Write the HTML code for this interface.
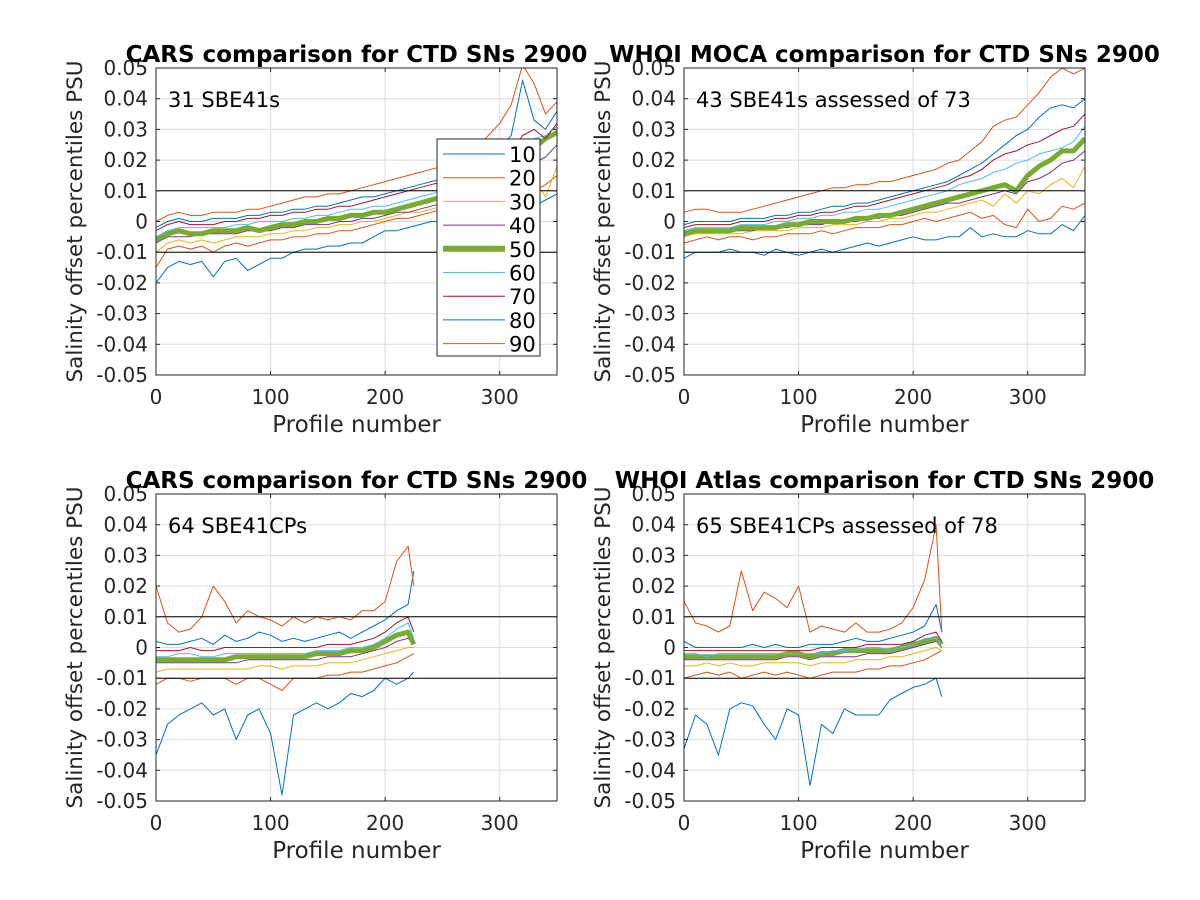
<!DOCTYPE html>
<html><head><meta charset="utf-8"><style>
html,body{margin:0;padding:0;background:#fff;}
svg{display:block;font-family:"DejaVu Sans","Liberation Sans",sans-serif;}
</style></head><body>
<svg id="fig" width="1200" height="900" viewBox="0 0 1200 900" xmlns="http://www.w3.org/2000/svg"></svg>
<script>
// ---- data (salinity offsets in units of 0.001 PSU) ----
const xTop = [0,10,20,30,40,50,60,70,80,90,100,110,120,130,140,150,160,170,180,190,200,210,220,230,240,250,260,270,280,290,300,310,320,330,340,350];
const xBot = [0,10,20,30,40,50,60,70,80,90,100,110,120,130,140,150,160,170,180,190,200,210,220,225];
const pctLabels = ["10","20","30","40","50","60","70","80","90"];
const pctColors = ["#0072BD","#D95319","#EDB120","#7E2F8E","#77AC30","#4DBEEE","#A2142F","#0072BD","#D95319"];
const yTicks = [0.05,0.04,0.03,0.02,0.01,0,-0.01,-0.02,-0.03,-0.04,-0.05];
const yTickLabels = ["0.05","0.04","0.03","0.02","0.01","0","-0.01","-0.02","-0.03","-0.04","-0.05"];
const xTicks = [0,100,200,300];
const refLines = [0.01,-0.01];

const tl10=[-20,-15,-13,-14,-13,-18,-13,-12,-16,-14,-12,-12,-10,-9,-9,-8,-8,-7,-7,-5,-3,-3,-2,-1,0,0,1,2,3,2,4,5,6,5,7,9];
const tl20=[-15,-9,-8,-9,-8,-10,-8,-7,-8,-7,-6,-6,-5,-5,-4,-4,-3,-3,-2,-1,0,1,1,2,3,4,5,5,4,6,6,8,9,10,12,15];
const tl30=[-10,-7,-6,-7,-6,-7,-6,-5,-5,-5,-4,-4,-3,-3,-2,-2,-1,-1,0,0,1,2,3,3,4,5,5,6,8,9,10,12,14,14,8,18];
const tl40=[-7,-5,-5,-5,-4,-4,-4,-4,-3,-3,-3,-2,-2,-1,-1,-1,0,0,1,1,2,3,3,4,5,6,7,8,10,11,12,15,17,19,21,25];
const tl50=[-6,-4,-3,-4,-4,-3,-3,-3,-2,-3,-2,-1,-1,0,0,1,1,2,2,3,3,4,5,6,7,8,9,10,11,13,15,18,21,24,27,29];
const tl60=[-5,-3,-2,-2,-2,-2,-2,-1,-1,0,0,0,1,1,2,2,3,4,4,5,5,6,7,8,9,10,11,13,14,16,18,20,24,27,28,31];
const tl70=[-3,-1,0,-1,-1,-1,0,0,1,1,2,2,3,3,4,4,5,5,6,7,8,9,10,11,12,13,14,16,17,19,21,23,28,30,27,32];
const tl80=[-2,0,1,0,0,1,1,1,2,2,3,3,4,4,5,5,6,7,8,8,9,10,11,12,13,14,15,17,19,21,24,28,46,33,30,36];
const tl90=[0,2,3,2,2,3,3,3,4,4,5,6,7,8,8,9,9,10,11,12,13,14,15,16,17,18,20,22,24,28,32,38,51,45,35,39];

const tr10=[-12,-10,-10,-10,-9,-10,-10,-11,-9,-10,-11,-10,-9,-10,-9,-8,-7,-8,-7,-6,-5,-6,-6,-5,-5,-2,-5,-4,-5,-5,-3,-4,-4,-1,-3,2];
const tr20=[-7,-6,-5,-6,-5,-5,-6,-5,-5,-4,-4,-4,-3,-4,-3,-2,-2,-2,-1,-1,0,1,0,1,2,3,1,2,-1,-2,4,0,1,5,4,6];
const tr30=[-5,-4,-4,-4,-4,-4,-3,-3,-3,-3,-2,-2,-2,-1,-1,-1,0,0,1,1,2,3,3,4,5,6,7,5,9,6,10,9,12,14,11,18];
const tr40=[-4,-3,-3,-3,-3,-3,-3,-2,-2,-2,-1,-1,-1,0,0,0,1,1,2,2,3,4,5,6,6,7,8,9,10,9,13,14,16,19,20,23];
const tr50=[-4,-3,-3,-3,-3,-2,-2,-2,-2,-1,-1,0,0,0,0,1,1,2,2,3,4,5,6,7,8,9,10,11,12,10,15,18,20,23,23,27];
const tr60=[-3,-2,-2,-2,-2,-1,-1,-1,0,0,1,1,2,2,3,3,4,4,5,6,7,8,9,10,12,13,14,16,17,19,20,22,23,24,26,31];
const tr70=[-2,-1,-1,-1,-1,0,0,0,1,1,2,2,3,3,4,5,5,6,7,8,9,10,11,12,14,15,17,20,22,23,25,26,28,30,31,35];
const tr80=[-1,0,0,0,0,1,1,1,2,2,3,3,4,5,5,6,6,7,8,9,10,11,12,13,15,17,19,22,25,28,30,34,37,38,37,40];
const tr90=[3,4,4,3,3,3,4,5,6,7,8,9,10,11,11,12,12,13,13,14,15,16,17,19,20,23,26,31,33,34,38,42,47,50,48,50];

const bl10=[-35,-25,-22,-20,-18,-22,-20,-30,-22,-20,-28,-48,-22,-20,-18,-20,-18,-15,-16,-14,-10,-12,-10,-8];
const bl20=[-12,-10,-10,-11,-10,-10,-10,-12,-10,-10,-12,-14,-10,-10,-10,-9,-9,-8,-8,-7,-6,-5,-3,-2];
const bl30=[-8,-7,-7,-7,-7,-7,-7,-7,-7,-6,-6,-7,-6,-6,-6,-5,-5,-5,-4,-3,-2,-1,0,0];
const bl40=[-5,-5,-5,-5,-5,-5,-5,-5,-4,-4,-4,-4,-4,-4,-4,-3,-3,-3,-2,-1,0,2,3,1];
const bl50=[-4,-4,-4,-4,-4,-4,-4,-3,-3,-3,-3,-3,-3,-3,-2,-2,-2,-1,-1,0,2,4,5,1];
const bl60=[-3,-3,-2,-2,-3,-3,-2,-2,-2,-2,-2,-2,-2,-2,-1,-1,-1,0,0,1,3,6,8,3];
const bl70=[-1,-1,-1,0,-1,-1,0,0,0,0,0,0,0,0,0,1,1,1,2,3,5,8,10,5];
const bl80=[2,1,1,2,3,1,4,2,3,5,4,2,3,2,3,4,5,3,5,7,9,12,14,25];
const bl90=[20,8,5,6,10,20,15,8,12,10,9,7,10,8,10,9,10,9,12,12,15,28,33,20];

const br10=[-33,-22,-25,-35,-20,-18,-19,-25,-30,-20,-22,-45,-25,-28,-20,-22,-22,-22,-17,-15,-13,-12,-10,-16];
const br20=[-10,-9,-8,-9,-8,-10,-9,-8,-9,-8,-9,-10,-9,-8,-8,-8,-7,-7,-6,-6,-5,-4,-2,-1];
const br30=[-6,-6,-5,-6,-5,-6,-6,-5,-5,-5,-5,-6,-5,-5,-5,-4,-4,-4,-3,-3,-2,-1,0,-1];
const br40=[-4,-4,-4,-4,-4,-4,-4,-4,-4,-3,-3,-4,-3,-3,-3,-3,-2,-2,-2,-1,0,1,2,0];
const br50=[-3,-3,-3,-3,-3,-3,-3,-3,-3,-2,-2,-3,-2,-2,-1,-1,-1,-1,-1,0,1,2,3,1];
const br60=[-2,-2,-3,-2,-2,-2,-2,-2,-2,-2,-2,-2,-2,-1,-1,-1,0,0,-1,0,1,3,3,1];
const br70=[-1,-1,-1,-1,-1,-1,-1,-1,-1,-1,-1,-1,0,0,0,0,1,1,1,1,2,4,5,2];
const br80=[2,0,0,0,0,0,1,0,1,0,0,1,1,1,2,3,2,2,3,4,5,7,14,5];
const br90=[15,8,7,5,7,25,12,18,16,13,20,5,7,6,5,8,5,5,6,8,13,22,40,5];

const panels = [
 {name:"cars-sbe41",title:"CARS comparison for CTD SNs 2900",note:"31 SBE41s",x0:156,y0:68,xs:xTop,series:[tl10,tl20,tl30,tl40,tl50,tl60,tl70,tl80,tl90],legend:true},
 {name:"whoi-moca-sbe41",title:"WHOI MOCA comparison for CTD SNs 2900",note:"43 SBE41s assessed of 73",x0:684,y0:68,xs:xTop,series:[tr10,tr20,tr30,tr40,tr50,tr60,tr70,tr80,tr90]},
 {name:"cars-sbe41cp",title:"CARS comparison for CTD SNs 2900",note:"64 SBE41CPs",x0:156,y0:494,xs:xBot,series:[bl10,bl20,bl30,bl40,bl50,bl60,bl70,bl80,bl90]},
 {name:"whoi-atlas-sbe41cp",title:"WHOI Atlas comparison for CTD SNs 2900",note:"65 SBE41CPs assessed of 78",x0:684,y0:494,xs:xBot,series:[br10,br20,br30,br40,br50,br60,br70,br80,br90]}
];
const W=401, H=307, XMAX=350, YMIN=-0.05, YMAX=0.05;
const NS="http://www.w3.org/2000/svg";
const svg=document.getElementById('fig');
function mk(tag,attrs,parent){const e=document.createElementNS(NS,tag);for(const k in attrs)e.setAttribute(k,attrs[k]);(parent||svg).appendChild(e);return e;}

panels.forEach((p,pi)=>{
  const sx=v=>p.x0+v/XMAX*W;
  const sy=v=>p.y0+(YMAX-v)/(YMAX-YMIN)*H;
  const g=mk('g',{});
  
  
  const cp=mk('clipPath',{id:'clip'+pi},g);
  mk('rect',{x:p.x0,y:p.y0,width:W,height:H},cp);
  yTicks.forEach(t=>{const l=mk('line',{x1:p.x0,x2:p.x0+W,y1:sy(t),y2:sy(t),stroke:'#dcdcdc','stroke-width':1},g);
    });
  xTicks.forEach(t=>{const l=mk('line',{x1:sx(t),x2:sx(t),y1:p.y0,y2:p.y0+H,stroke:'#dcdcdc','stroke-width':1},g);
    });
  const lg=mk('g',{'clip-path':'url(#clip'+pi+')'},g);
  p.series.forEach((s,si)=>{
    const d=s.map((v,i)=>(i?'L':'M')+sx(p.xs[i]).toFixed(1)+','+sy(v/1000).toFixed(1)).join('');
    const pa=mk('path',{d:d,fill:'none',stroke:pctColors[si],'stroke-width':si===4?5:1,'stroke-linejoin':'round'},lg);
    
    
  });
  refLines.forEach(r=>{const l=mk('line',{x1:p.x0,x2:p.x0+W,y1:sy(r),y2:sy(r),stroke:'#000','stroke-width':1},g);
    });
  const b=mk('rect',{x:p.x0,y:p.y0,width:W,height:H,fill:'none',stroke:'#262626','stroke-width':1},g);
  
  yTicks.forEach((t,i)=>{
    mk('line',{x1:p.x0,x2:p.x0+4,y1:sy(t),y2:sy(t),stroke:'#262626'},g);
    mk('line',{x1:p.x0+W,x2:p.x0+W-4,y1:sy(t),y2:sy(t),stroke:'#262626'},g);
    const tx=mk('text',{x:p.x0-8,y:sy(t)+7,'text-anchor':'end','font-size':20,fill:'#262626'},g);
    tx.textContent=yTickLabels[i];
    
  });
  xTicks.forEach(t=>{
    mk('line',{x1:sx(t),x2:sx(t),y1:p.y0+H,y2:p.y0+H-4,stroke:'#262626'},g);
    mk('line',{x1:sx(t),x2:sx(t),y1:p.y0,y2:p.y0+4,stroke:'#262626'},g);
    const tx=mk('text',{x:sx(t),y:p.y0+H+29,'text-anchor':'middle','font-size':20,fill:'#262626'},g);
    tx.textContent=String(t);
    
  });
  const xl=mk('text',{x:p.x0+W/2,y:p.y0+H+57,'text-anchor':'middle','font-size':23,fill:'#262626'},g);
  xl.textContent='Profile number';
  
  const yl=mk('text',{x:0,y:0,'text-anchor':'middle','font-size':21.5,fill:'#262626',transform:'translate('+(p.x0-74)+','+(p.y0+H/2)+') rotate(-90)'},g);
  yl.textContent='Salinity offset percentiles PSU';
  
  const ti=mk('text',{x:p.x0+W/2,y:p.y0-6,'text-anchor':'middle','font-size':23,'font-weight':'bold',fill:'#000'},g);
  ti.textContent=p.title;
  
  const nt=mk('text',{x:p.x0+12,y:p.y0+39,'font-size':21,fill:'#000'},g);
  nt.textContent=p.note;
  
  if(p.legend){
    const L=mk('g',{},g);
    
    mk('rect',{x:437,y:139,width:103,height:217,fill:'#fff',stroke:'#262626','stroke-width':1},L);
    pctLabels.forEach((lab,i)=>{
      const yy=154+i*23.7;
      const e=mk('g',{},L);
      
      mk('line',{x1:443,x2:505,y1:yy,y2:yy,stroke:pctColors[i],'stroke-width':i===4?6:1},e);
      const t=mk('text',{x:509,y:yy+8,'font-size':21,fill:'#000'},e);
      t.textContent=lab;
    });
  }
});
</script>
</body></html>
